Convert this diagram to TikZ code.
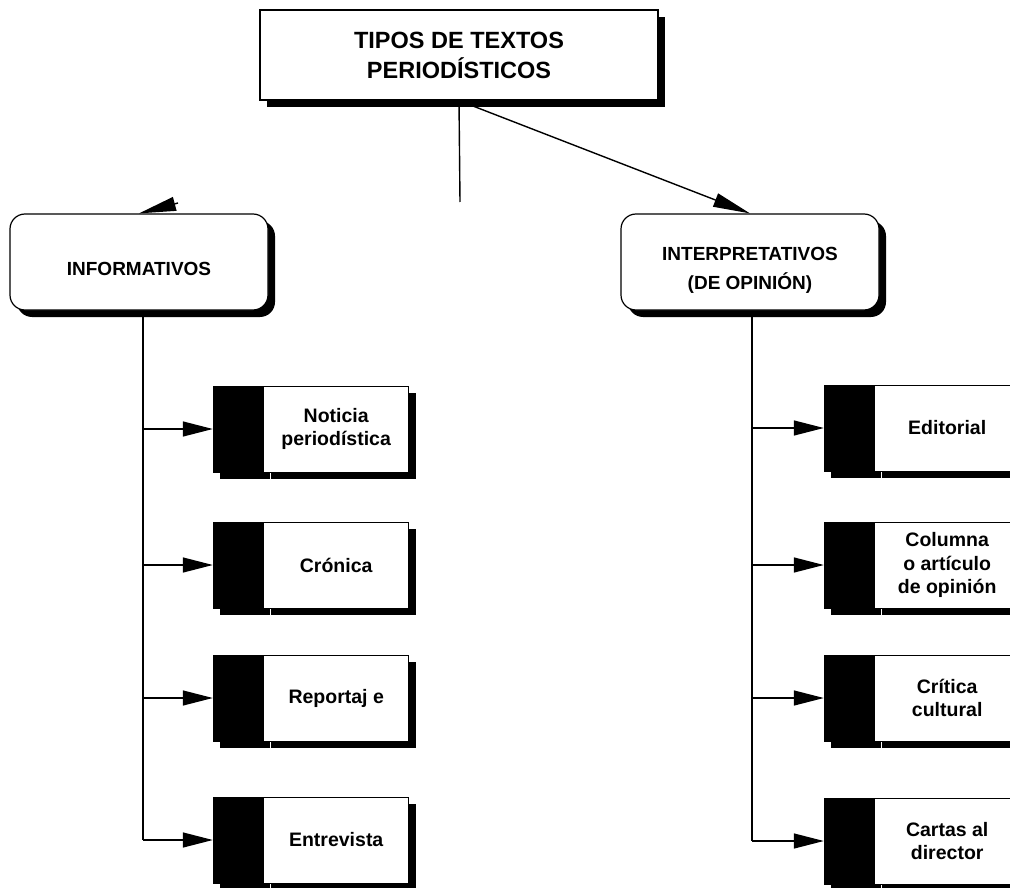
\documentclass[tikz,border=0pt]{standalone}
\usepackage{fontspec}
\setmainfont{Liberation Sans}
\usepackage{tikz}
\usetikzlibrary{positioning,arrows.meta,shadows}

\begin{document}
\begin{tikzpicture}[
  x=1pt, y=-1pt,
  boxshadow/.style={drop shadow={shadow xshift=7pt, shadow yshift=-7pt, fill=black, opacity=1}},
  titlebox/.style={rectangle, draw=black, line width=1.2pt, fill=white, boxshadow,
              minimum width=398pt, minimum height=90pt, align=center,
              font=\fontsize{23.5}{30}\selectfont\bfseries},
  groupbox/.style={rectangle, rounded corners=15pt, draw=black, line width=1.2pt, fill=white, boxshadow,
              minimum width=258pt, minimum height=96pt, align=center,
              font=\fontsize{19}{29}\selectfont\bfseries},
  tab/.style={rectangle, draw=black, fill=black, boxshadow, minimum width=50pt,
              minimum height=86pt, inner sep=0pt},
  card/.style={rectangle, draw=black, line width=1pt, fill=white, boxshadow, minimum width=145pt,
              minimum height=86pt, align=center, font=\fontsize{19.5}{23.5}\selectfont\bfseries},
  line/.style={line width=1.4pt},
  arrow/.style={line width=1.4pt, -{Triangle[length=30pt, width=15pt]}},
  bigarrow/.style={line width=1.4pt, -{Triangle[length=37pt, width=14pt]}}
]
\useasboundingbox (0,0) rectangle (1010,888);
\clip (0,0) rectangle (1010,888);

% Title
\node[titlebox] (title) at (459,55) {TIPOS DE TEXTOS\\PERIODÍSTICOS};

% Groups
\node[groupbox, text height=26pt, text depth=0pt] (inf) at (139,262) {INFORMATIVOS};
\node[groupbox, text height=59pt] (int) at (750,262) {INTERPRETATIVOS\\(DE OPINIÓN)};

% Informativos
\node[tab] (ltab1) at (238,429) {};
\node[card, right=0pt of ltab1] (lcard1) {Noticia\\periodística};
\node[tab] (ltab2) at (238,565) {};
\node[card, right=0pt of ltab2] (lcard2) {Crónica};
\node[tab] (ltab3) at (238,698) {};
\node[card, right=0pt of ltab3] (lcard3) {Reportaj e};
\node[tab] (ltab4) at (238,840) {};
\node[card, right=0pt of ltab4] (lcard4) {Entrevista};

% Interpretativos
\node[tab] (rtab1) at (849,428) {};
\node[card, right=0pt of rtab1] (rcard1) {Editorial};
\node[tab] (rtab2) at (849,565) {};
\node[card, right=0pt of rtab2] (rcard2) {Columna\\o artículo\\de opinión};
\node[tab] (rtab3) at (849,698) {};
\node[card, right=0pt of rtab3] (rcard3) {Crítica\\cultural};
\node[tab] (rtab4) at (849,841) {};
\node[card, right=0pt of rtab4] (rcard4) {Cartas al\\director};

% From the title
\coordinate (stem) at (460,202);
\coordinate (stub) at (178,203);
\draw[line] (title.south) -- (stem);
\draw[bigarrow] (title.south) -- (int.north);
\draw[bigarrow] (stub) -- (inf.north);

% Trunks
\coordinate (ltrunk) at ([xshift=4pt]inf.south);
\coordinate (rtrunk) at ([xshift=2pt]int.south);
\draw[line] (ltrunk) -- (ltrunk |- ltab4.west);
\draw[line] (rtrunk) -- (rtrunk |- rtab4.west);

% Branches
\foreach \i in {1,...,4} {
  \draw[arrow] (ltrunk |- ltab\i.west) -- (ltab\i.west);
  \draw[arrow] (rtrunk |- rtab\i.west) -- (rtab\i.west);
}

\end{tikzpicture}
\end{document}
